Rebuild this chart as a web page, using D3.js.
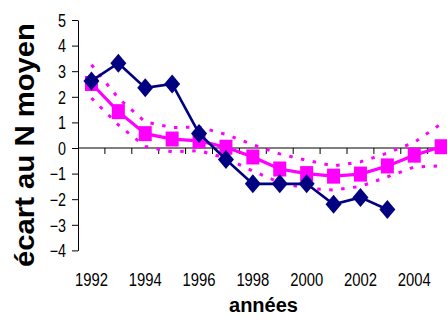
<!DOCTYPE html>
<html>
<head>
<meta charset="utf-8">
<script src="https://cdn.jsdelivr.net/npm/d3@7"></script>
<style>
  html, body { margin: 0; padding: 0; background: #fff; }
  svg { display: block; }
</style>
</head>
<body>
<svg id="chart" width="447" height="320"></svg>
<script>
// ---- data ----
const years = ["1992","1993","1994","1995","1996","1997","1998","1999","2000","2001","2002","2003","2004","2005"];
const observed = [2.62, 3.31, 2.35, 2.5, 0.57, -0.45, -1.4, -1.4, -1.4, -2.2, -1.93, -2.4];
const fitted = [2.52, 1.42, 0.56, 0.35, 0.28, 0.03, -0.35, -0.82, -1.0, -1.1, -1.02, -0.7, -0.28, 0.05];
const upperBand = [3.25, 1.95, 1.02, 0.8, 0.82, 0.53, 0.13, -0.23, -0.48, -0.7, -0.54, -0.2, 0.22, 0.94];
const lowerBand = [1.95, 0.9, 0.06, -0.15, -0.1, -0.4, -0.9, -1.35, -1.58, -1.64, -1.5, -1.13, -0.74, -0.7];
const yTickValues = [-4, -3, -2, -1, 0, 1, 2, 3, 4, 5];
const xTickLabels = ["1992","1994","1996","1998","2000","2002","2004"];
const yTitle = "écart au N moyen";
const xTitle = "années";

const svg = d3.select("#chart");
const navy = "#000080", magenta = "#FF00FF";
const font = "Arial, 'Liberation Sans', sans-serif";

const x = d3.scaleBand().domain(years).range([78, 454.6]).paddingInner(0).paddingOuter(0);
const bw = x.bandwidth();
const cx = d => x(d) + bw / 2;
const y = d3.scaleLinear().domain([-4, 5]).range([250.4, 20]);

// ---- y axis ----
const yAxis = svg.append("g").attr("transform", "translate(78,0)")
  .call(d3.axisLeft(y).tickValues(yTickValues).tickSize(6).tickSizeOuter(0).tickFormat(d3.format("d")));
yAxis.select(".domain").attr("stroke", "#000").attr("stroke-width", 1);
yAxis.selectAll(".tick line").attr("stroke", "#000");
yAxis.selectAll(".tick text")
  .attr("font-family", font).attr("font-size", 17.5).attr("fill", "#000")
  .attr("x", -12 / 0.82).attr("dy", "0.36em")
  .attr("transform", "scale(0.82,1)");

// ---- x axis (at y = 0) ----
const xAxisG = svg.append("g");
xAxisG.append("line")
  .attr("x1", x.range()[0]).attr("x2", x.range()[1])
  .attr("y1", y(0)).attr("y2", y(0))
  .attr("stroke", "#000").attr("stroke-width", 1);
xAxisG.selectAll("line.tk").data(years.slice(1)).join("line")
  .attr("class", "tk")
  .attr("x1", d => x(d)).attr("x2", d => x(d))
  .attr("y1", y(0)).attr("y2", y(0) + 6)
  .attr("stroke", "#000").attr("stroke-width", 1);
svg.append("g").selectAll("text").data(xTickLabels).join("text")
  .attr("transform", d => `translate(${cx(d)},286) scale(0.78,1)`)
  .attr("text-anchor", "middle")
  .attr("font-family", font).attr("font-size", 19).attr("fill", "#000")
  .text(d => d);

// ---- band lines (dashed) ----
const lineGen = d3.line().x(d => cx(d.year)).y(d => y(d.v));
const toPts = arr => arr.map((v, i) => ({ year: years[i], v }));

[upperBand, lowerBand].forEach(arr => {
  svg.append("path").datum(toPts(arr))
    .attr("d", lineGen).attr("fill", "none")
    .attr("stroke", magenta).attr("stroke-width", 3)
    .attr("stroke-dasharray", "3.5,8.5");
});

// ---- fitted series ----
svg.append("path").datum(toPts(fitted))
  .attr("d", lineGen).attr("fill", "none")
  .attr("stroke", magenta).attr("stroke-width", 3.2);
svg.append("g").selectAll("rect").data(toPts(fitted)).join("rect")
  .attr("x", d => cx(d.year) - 6.5).attr("y", d => y(d.v) - 7.5)
  .attr("width", 13).attr("height", 15)
  .attr("fill", magenta);

// ---- observed series ----
svg.append("path").datum(toPts(observed))
  .attr("d", lineGen).attr("fill", "none")
  .attr("stroke", navy).attr("stroke-width", 2.6);
svg.append("g").selectAll("path").data(toPts(observed)).join("path")
  .attr("d", d => {
    const px = cx(d.year), py = y(d.v);
    return `M${px},${py - 9.5}L${px + 8},${py}L${px},${py + 9.5}L${px - 8},${py}Z`;
  })
  .attr("fill", navy);

// ---- titles ----
svg.append("text")
  .attr("transform", "translate(34,145) rotate(-90)")
  .attr("text-anchor", "middle")
  .attr("font-family", font).attr("font-weight", "bold").attr("font-size", 27)
  .attr("textLength", 244).attr("lengthAdjust", "spacingAndGlyphs")
  .attr("fill", "#000")
  .text(yTitle);

svg.append("text")
  .attr("x", 263.5).attr("y", 312)
  .attr("text-anchor", "middle")
  .attr("font-family", font).attr("font-weight", "bold").attr("font-size", 20)
  .attr("textLength", 69).attr("lengthAdjust", "spacingAndGlyphs")
  .attr("fill", "#000")
  .text(xTitle);
</script>
</body>
</html>
